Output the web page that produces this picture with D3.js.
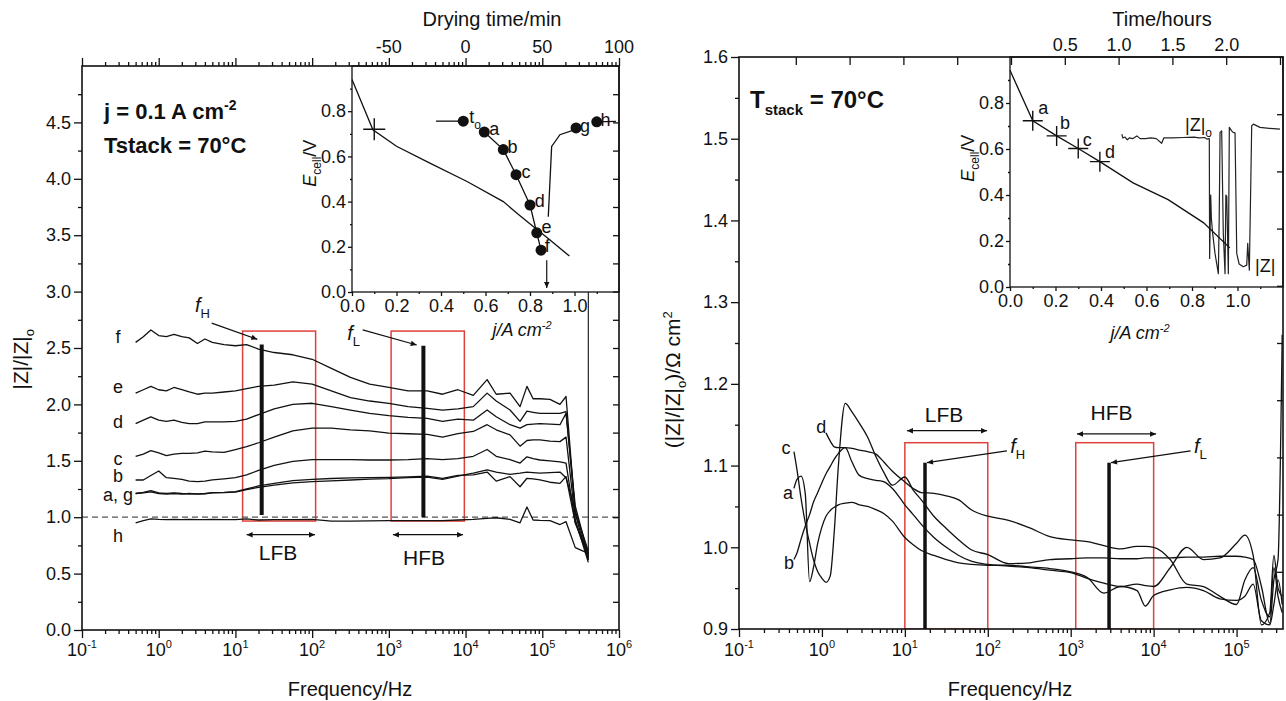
<!DOCTYPE html>
<html>
<head>
<meta charset="utf-8">
<title>|Z|/|Z|o against frequency</title>
<script src="https://cdn.jsdelivr.net/npm/d3@7/dist/d3.min.js"></script>
<style>
  body { margin: 0; background: #fff; }
  svg text { font-family: "Liberation Sans", Arial, sans-serif; fill: #111; }
</style>
</head>
<body>
<div id="vis"></div>
<script>
// ---------- left panel: |Z|/|Z|o during drying (j = 0.1 A cm-2) ----------
const freqLeft = [0.5, 0.63, 0.79, 1.0, 1.26, 1.58, 2.0, 2.5, 3.2, 4.0, 5.0, 7.1, 10, 14, 20, 32, 56, 100, 178, 316,
  562, 1000, 1780, 3160, 5010, 7940, 12600, 19100, 25100, 38000, 51300, 63100, 75900, 93300, 126000, 170000, 204000, 269000, 398000];
const leftF = [2.55, 2.60, 2.66, 2.61, 2.60, 2.62, 2.60, 2.59, 2.54, 2.58, 2.55, 2.53, 2.52, 2.53, 2.49, 2.46, 2.44, 2.40, 2.32, 2.24,
  2.18, 2.15, 2.12, 2.12, 2.09, 2.13, 2.08, 2.22, 2.09, 2.10, 1.98, 2.16, 2.05, 2.05, 2.045, 2.00, 2.07, 1.03, 0.62];
const leftE = [2.10, 2.13, 2.16, 2.13, 2.12, 2.15, 2.13, 2.11, 2.09, 2.10, 2.10, 2.11, 2.12, 2.14, 2.16, 2.17, 2.20, 2.18, 2.12, 2.06,
  2.03, 2.01, 1.98, 1.965, 1.95, 1.96, 1.98, 2.10, 2.03, 1.95, 1.85, 1.94, 1.93, 1.92, 1.92, 1.92, 1.935, 1.05, 0.70];
const leftD = [1.83, 1.86, 1.89, 1.86, 1.85, 1.86, 1.84, 1.83, 1.83, 1.845, 1.845, 1.845, 1.85, 1.87, 1.91, 1.96, 2.00, 2.01, 1.98, 1.95,
  1.92, 1.90, 1.885, 1.876, 1.85, 1.87, 1.86, 1.95, 1.89, 1.82, 1.79, 1.82, 1.825, 1.83, 1.825, 1.82, 1.92, 1.10, 0.66];
const leftC = [1.54, 1.56, 1.59, 1.57, 1.545, 1.56, 1.566, 1.566, 1.57, 1.585, 1.58, 1.575, 1.60, 1.625, 1.66, 1.71, 1.765, 1.79, 1.79, 1.775,
  1.765, 1.745, 1.74, 1.735, 1.71, 1.74, 1.76, 1.82, 1.775, 1.73, 1.63, 1.68, 1.685, 1.685, 1.675, 1.67, 1.71, 0.98, 0.60];
const leftB = [1.33, 1.33, 1.37, 1.41, 1.35, 1.345, 1.335, 1.32, 1.315, 1.32, 1.33, 1.34, 1.35, 1.375, 1.415, 1.46, 1.495, 1.51, 1.51, 1.51,
  1.507, 1.507, 1.51, 1.52, 1.51, 1.52, 1.54, 1.60, 1.54, 1.51, 1.48, 1.535, 1.52, 1.507, 1.50, 1.49, 1.48, 0.95, 0.68];
const leftA = [1.21, 1.22, 1.235, 1.215, 1.212, 1.215, 1.21, 1.208, 1.206, 1.21, 1.217, 1.22, 1.226, 1.25, 1.277, 1.30, 1.325, 1.336, 1.343, 1.348,
  1.35, 1.353, 1.358, 1.365, 1.345, 1.37, 1.375, 1.40, 1.32, 1.36, 1.27, 1.345, 1.34, 1.33, 1.31, 1.30, 1.36, 0.95, 0.64];
const leftG = [1.21, 1.215, 1.225, 1.21, 1.205, 1.21, 1.205, 1.21, 1.204, 1.207, 1.215, 1.218, 1.222, 1.245, 1.265, 1.285, 1.305, 1.315, 1.322, 1.33,
  1.338, 1.342, 1.35, 1.356, 1.335, 1.365, 1.39, 1.42, 1.40, 1.38, 1.39, 1.40, 1.395, 1.39, 1.395, 1.40, 1.35, 1.06, 0.66];
const leftH = [0.95, 0.97, 0.985, 0.98, 0.978, 0.98, 0.978, 0.98, 0.978, 0.978, 0.98, 0.978, 0.978, 0.985, 0.975, 0.978, 0.978, 0.98, 0.965, 0.965,
  0.968, 0.969, 0.97, 0.97, 0.97, 0.975, 0.98, 0.99, 0.995, 0.98, 0.95, 1.09, 0.975, 0.972, 0.97, 0.935, 0.96, 0.73, 0.68];
const leftSpike = { freq: 398000, values: [0.62, 5.0] };
const leftCurveLabels = ["f", "e", "d", "c", "b", "a, g", "h"];
const leftCurveLabelY = [2.60, 2.15, 1.84, 1.52, 1.365, 1.197, 0.83];
const leftYTicks = [0, 0.5, 1.0, 1.5, 2.0, 2.5, 3.0, 3.5, 4.0, 4.5];
const decadesLeft = [-1, 0, 1, 2, 3, 4, 5, 6];
const dryingTicks = [-50, 0, 50, 100];
const lfbLeft = [12.4, 111], hfbLeft = [1070, 9640], boxYLeft = [0.966, 2.65];
const fHLeft = { freq: 22, y: [1.02, 2.53] }, fLLeft = { freq: 2820, y: [1.0, 2.52] };

// left inset: polarisation curve and cell voltage during drying
const polLeftJ = [0, 0.094, 0.2, 0.35, 0.517, 0.68, 0.74, 0.816, 0.89, 0.977];
const polLeftE = [0.94, 0.718, 0.645, 0.57, 0.489, 0.40, 0.35, 0.289, 0.23, 0.159];
const crossLeft = [0.1, 0.72];
const dryNames = ["t", "a", "b", "c", "d", "e", "f", "g", "h"];
const dryTimes = [-1.5, 12.2, 24.6, 32.9, 42, 46.4, 49.2, 72, 85.5];
const dryE = [0.756, 0.708, 0.63, 0.519, 0.385, 0.262, 0.185, 0.726, 0.753];
const dryLabelT = [2.4, 15.5, 27.3, 36.4, 45.1, 49.5, 51.6, 74.6, 88];
const dryLabelE = [0.748, 0.696, 0.615, 0.504, 0.378, 0.26, 0.178, 0.707, 0.736];
const leadLine = { t: [-19.3, -1.5], e: [0.756, 0.756] };
const recoveryT = [53.9, 56.1, 61.5, 71.3];
const recoveryE = [0.333, 0.644, 0.696, 0.718];
const tailLine = { t: [85.5, 98], e: [0.753, 0.755] };
const dropArrow = { t: 52.9, e: [0.14, 0.018] };

// ---------- right panel: (|Z|/|Z|o) at constant Tstack ----------
const freqRight = [0.46, 0.5, 0.56, 0.63, 0.71, 0.79, 0.89, 1.0, 1.12, 1.26, 1.41, 1.58, 1.91, 2.29, 2.82, 3.55, 4.47, 5.62, 7.08, 10,
  12.6, 15.8, 22.4, 31.6, 44.7, 63.1, 100, 178, 316, 562, 1000, 1585, 2512, 3981, 6310, 7943, 10000, 15850, 25120, 39810,
  63100, 100000, 125900, 158500, 199500, 251200, 281800, 316200, 354800];
const rightA = [1.072, 1.083, 1.087, 1.065, 0.958, 0.975, 1.005, 1.025, 1.038, 1.045, 1.049, 1.052, 1.054, 1.055, 1.052, 1.050, 1.046, 1.041, 1.032, 1.012,
  1.003, 0.996, 0.990, 0.985, 0.981, 0.979, 0.978, 0.978, 0.976, 0.974, 0.970, 0.963, 0.944, 0.952, 0.947, 0.928, 0.941, 0.948, 0.951, 0.947,
  0.937, 0.935, 0.940, 0.955, 0.910, 0.905, 0.930, 0.960, 0.930];
const rightB = [0.985, 0.993, 1.010, 1.026, 1.040, 1.055, 1.067, 1.079, 1.090, 1.099, 1.108, 1.115, 1.122, 1.105, 1.088, 1.084, 1.082, 1.080, 1.072, 1.052,
  1.040, 1.028, 1.012, 1.000, 0.990, 0.983, 0.979, 0.977, 0.975, 0.972, 0.969, 0.962, 0.956, 0.952, 0.955, 0.953, 0.952, 0.975, 1.000, 0.985,
  0.987, 1.005, 1.015, 0.990, 0.905, 0.920, 0.990, 0.950, 0.940];
const rightC = [1.117, 1.095, 1.06, 1.03, 1.005, 0.985, 0.97, 0.962, 0.957, 0.965, 1.02, 1.10, 1.176, 1.166, 1.152, 1.135, 1.111, 1.091, 1.076, 1.086,
  1.070, 1.058, 1.038, 1.023, 1.009, 0.997, 0.991, 0.980, 0.981, 0.985, 0.986, 0.987, 0.987, 0.986, 0.986, 0.987, 0.987, 0.987, 0.988, 0.988,
  0.989, 0.989, 0.988, 0.985, 0.952, 0.907, 0.96, 0.985, 1.26];
const rightD = [null, null, null, null, null, null, null, null, 1.140, 1.130, 1.123, 1.122, 1.122, 1.121, 1.119, 1.117, 1.114, 1.104, 1.093, 1.080,
  1.072, 1.067, 1.066, 1.063, 1.058, 1.046, 1.038, 1.033, 1.024, 1.013, 1.009, 1.007, 1.002, 0.998, 1.001, 1.001, 1.000, 0.985, 0.955, 0.952,
  0.940, 0.930, 0.960, 0.975, 0.935, 0.915, 0.975, 0.940, 0.920];
const rightCurveLabels = ["c", "a", "b", "d"];
const rightLabelFreq = [0.37, 0.39, 0.40, 0.98];
const rightLabelY = [1.1215, 1.066, 0.981, 1.1476];
const rightYTicks = [0.9, 1.0, 1.1, 1.2, 1.3, 1.4, 1.5, 1.6];
const decadesRight = [-1, 0, 1, 2, 3, 4, 5];
const hourTicks = [-2, -1.5, -1, -0.5, 0, 0.5, 1, 1.5, 2, 2.5];
const hourLabels = [0.5, 1.0, 1.5, 2.0];
const lfbRight = [10, 100], hfbRight = [1150, 10000], boxYRight = [0.9, 1.128];
const fHRight = { freq: 17.5, y: [0.9, 1.1035] }, fLRight = { freq: 2900, y: [0.9, 1.1035] };

// right inset: polarisation curve and impedance trace against time
const polRightJ = [0, 0.1, 0.205, 0.3, 0.395, 0.541, 0.695, 0.85, 0.966];
const polRightE = [0.942, 0.723, 0.657, 0.602, 0.545, 0.453, 0.38, 0.28, 0.17];
const crossRightJ = [0.1, 0.205, 0.3, 0.395];
const crossRightE = [0.723, 0.657, 0.602, 0.545];
const crossNames = ["a", "b", "c", "d"];
const crossLabelJ = [0.124, 0.22, 0.32, 0.418];
const crossLabelE = [0.752, 0.686, 0.613, 0.562];
const zTraceHours = [1.03, 1.04, 1.06, 1.08, 1.10, 1.13, 1.17, 1.20, 1.25, 1.30, 1.35, 1.40, 1.42, 1.50, 1.60, 1.70, 1.75, 1.80, 1.82, 1.843,
  1.846, 1.856, 1.862, 1.874, 1.896, 1.927, 1.935, 1.943, 1.958, 1.973, 1.989, 1.997, 2.005, 2.02, 2.029, 2.051, 2.065, 2.082, 2.091, 2.098,
  2.12, 2.159, 2.191, 2.2, 2.215, 2.228, 2.237, 2.253, 2.314, 2.40, 2.50];
const zTraceE = [0.664, 0.648, 0.652, 0.640, 0.648, 0.645, 0.657, 0.645, 0.645, 0.648, 0.645, 0.625, 0.648, 0.648, 0.650, 0.652, 0.648, 0.650, 0.643, 0.645,
  0.124, 0.400, 0.300, 0.234, 0.146, 0.058, 0.300, 0.672, 0.679, 0.234, 0.058, 0.400, 0.394, 0.058, 0.694, 0.679, 0.672, 0.670, 0.380, 0.146,
  0.100, 0.088, 0.095, 0.190, 0.073, 0.438, 0.701, 0.708, 0.694, 0.690, 0.686];

const ink = "#111", boxRed = "#e0403a";

const svg = d3.select("#vis").append("svg")
  .attr("width", 1286).attr("height", 701)
  .attr("viewBox", [0, 0, 1286, 701]);

const defs = svg.append("defs");
defs.append("marker").attr("id", "ah").attr("viewBox", "0 0 10 10")
  .attr("refX", 10).attr("refY", 5).attr("markerWidth", 10).attr("markerHeight", 6)
  .attr("markerUnits", "userSpaceOnUse").attr("orient", "auto-start-reverse")
  .append("path").attr("d", "M0,0.5 L10,5 L0,9.5 z").attr("fill", ink);

// panel geometry
const mL = { left: 82, right: 619, top: 66, bottom: 630 };
const mR = { left: 739, right: 1283, top: 57, bottom: 629 };

const xL = d3.scaleLog().domain([0.1, 1e6]).range([mL.left, mL.right]);
const yL = d3.scaleLinear().domain([0, 5]).range([mL.bottom, mL.top]);
const jL = d3.scaleLinear().domain([0, 1.2]).range([352, mL.right]);
const eL = d3.scaleLinear().domain([0, 1]).range([292, mL.top]);
const dryL = d3.scaleLinear().domain([-50, 100]).range([xL(1e3), xL(1e6)]);

const xR = d3.scaleLog().domain([0.1, 3.63e5]).range([mR.left, mR.right]);
const yR = d3.scaleLinear().domain([0.9, 1.6]).range([mR.bottom, mR.top]);
const jR = d3.scaleLinear().domain([0, 1.2]).range([1010, mR.right]);
const eR = d3.scaleLinear().domain([0, 1]).range([287, mR.top]);
const hrR = d3.scaleLinear().domain([0, 2.5]).range([1011, 1280]);

defs.append("clipPath").attr("id", "clipL").append("rect")
  .attr("x", mL.left).attr("y", mL.top).attr("width", mL.right - mL.left).attr("height", mL.bottom - mL.top);
defs.append("clipPath").attr("id", "clipR").append("rect")
  .attr("x", mR.left).attr("y", mR.top).attr("width", mR.right - mR.left).attr("height", mR.bottom - mR.top);

// ---------- helpers ----------
function axis(parent, gen, values, size, fmt, pad) {
  const g = parent.append("g").call(gen.tickValues(values).tickSize(size).tickSizeOuter(0)
    .tickPadding(pad ?? 3).tickFormat(fmt || (() => "")));
  g.select(".domain").remove();
  g.attr("font-size", 18).attr("font-family", null);
  g.selectAll(".tick line").attr("stroke", ink).attr("stroke-width", 1.3);
  return g;
}
const isDecade = t => Math.abs(Math.log10(t) - Math.round(Math.log10(t))) < 1e-9;

function rich(text, parts) {
  let shift = 0;
  parts.forEach(p => {
    const target = p.sub ? p.sub : p.sup ? -p.sup : 0;
    const ts = text.append("tspan").text(p.t).attr("dy", target - shift);
    shift = target;
    if (p.size) ts.attr("font-size", p.size);
    if (p.italic) ts.attr("font-style", "italic");
  });
  return text;
}
function arrow(g, x1, y1, x2, y2, both) {
  g.append("line").attr("x1", x1).attr("y1", y1).attr("x2", x2).attr("y2", y2)
    .attr("stroke", ink).attr("stroke-width", 1.2)
    .attr("marker-end", "url(#ah)").attr("marker-start", both ? "url(#ah)" : null);
}
function decadeLabels(g, scale, exps, y) {
  const t = g.selectAll(null).data(exps).join("text")
    .attr("x", d => scale(10 ** d)).attr("y", y).attr("text-anchor", "middle").attr("font-size", 18);
  t.append("tspan").text("10");
  t.append("tspan").attr("dy", -8).attr("font-size", 11).text(d => d);
}
function cross(g, x, y, arm) {
  g.append("path").attr("d", `M${x - arm},${y}H${x + arm}M${x},${y - arm}V${y + arm}`)
    .attr("stroke", ink).attr("stroke-width", 1.4);
}

// ================= LEFT PANEL =================
const gL = svg.append("g");
const plotL = gL.append("g").attr("clip-path", "url(#clipL)");

[lfbLeft, hfbLeft].forEach(b => plotL.append("rect")
  .attr("x", xL(b[0])).attr("y", yL(boxYLeft[1]))
  .attr("width", xL(b[1]) - xL(b[0])).attr("height", yL(boxYLeft[0]) - yL(boxYLeft[1]))
  .attr("fill", "none").attr("stroke", boxRed).attr("stroke-width", 1.5));

plotL.append("line").attr("x1", mL.left).attr("x2", mL.right).attr("y1", yL(1)).attr("y2", yL(1))
  .attr("stroke", "#555").attr("stroke-width", 1.2).attr("stroke-dasharray", "6,4");

const lineL = d3.line().x(d => xL(d[0])).y(d => yL(d[1]));
const seriesLeft = [leftF, leftE, leftD, leftC, leftB, leftA, leftG, leftH];
plotL.selectAll("path.curve").data(seriesLeft).join("path").attr("class", "curve")
  .attr("d", vals => lineL(vals.map((v, i) => [freqLeft[i], v])))
  .attr("fill", "none").attr("stroke", ink).attr("stroke-width", 1.3).attr("stroke-linejoin", "round");
plotL.append("path").attr("d", lineL(leftSpike.values.map(v => [leftSpike.freq, v])))
  .attr("stroke", ink).attr("stroke-width", 1.1);

[fHLeft, fLLeft].forEach(m => plotL.append("line")
  .attr("x1", xL(m.freq)).attr("x2", xL(m.freq)).attr("y1", yL(m.y[0])).attr("y2", yL(m.y[1]))
  .attr("stroke", ink).attr("stroke-width", 4));

// left inset
const inL = gL.append("g");
inL.append("rect").attr("x", jL(0)).attr("y", eL(1)).attr("width", jL(1.2) - jL(0)).attr("height", eL(0) - eL(1))
  .attr("fill", "#fff").attr("stroke", ink).attr("stroke-width", 1.3);
const lineJL = d3.line().x(d => jL(d[0])).y(d => eL(d[1]));
const lineDL = d3.line().x(d => dryL(d[0])).y(d => eL(d[1]));
inL.append("path").attr("d", lineJL(polLeftJ.map((j, i) => [j, polLeftE[i]])))
  .attr("fill", "none").attr("stroke", ink).attr("stroke-width", 1.3);
cross(inL, jL(crossLeft[0]), eL(crossLeft[1]), 11);
inL.append("path").attr("d", lineDL(leadLine.t.map((t, i) => [t, leadLine.e[i]])))
  .attr("fill", "none").attr("stroke", ink).attr("stroke-width", 1.3);
inL.append("path").attr("d", lineDL(dryTimes.slice(1, 7).map((t, i) => [t, dryE[i + 1]])))
  .attr("fill", "none").attr("stroke", ink).attr("stroke-width", 1.3);
inL.append("path").attr("d", lineDL(recoveryT.map((t, i) => [t, recoveryE[i]])))
  .attr("fill", "none").attr("stroke", ink).attr("stroke-width", 1.3);
inL.append("path").attr("d", lineDL(tailLine.t.map((t, i) => [t, tailLine.e[i]])))
  .attr("fill", "none").attr("stroke", ink).attr("stroke-width", 1.3);
arrow(inL, dryL(dropArrow.t), eL(dropArrow.e[0]), dryL(dropArrow.t), eL(dropArrow.e[1]));
inL.selectAll("circle").data(dryTimes).join("circle")
  .attr("cx", d => dryL(d)).attr("cy", (d, i) => eL(dryE[i])).attr("r", 5.5).attr("fill", ink);
dryNames.forEach((n, i) => {
  const t = inL.append("text").attr("x", dryL(dryLabelT[i])).attr("y", eL(dryLabelE[i])).attr("font-size", 18);
  if (n === "t") rich(t, [{ t: "t" }, { t: "o", sub: 6, size: 12 }]);
  else t.text(n);
});
axis(inL.append("g").attr("transform", `translate(${jL(0)},0)`), d3.axisLeft(eL), [0, 0.2, 0.4, 0.6, 0.8], 4, d3.format(".1f"), 2);
axis(inL.append("g").attr("transform", `translate(${jL(0)},0)`), d3.axisLeft(eL), [0.1, 0.3, 0.5, 0.7, 0.9], 2);
axis(inL.append("g").attr("transform", `translate(0,${eL(0)})`), d3.axisBottom(jL), [0, 0.2, 0.4, 0.6, 0.8, 1.0], 4, d3.format(".1f"), 3);
axis(inL.append("g").attr("transform", `translate(0,${eL(0)})`), d3.axisBottom(jL), [0.1, 0.3, 0.5, 0.7, 0.9, 1.1], 2);
rich(inL.append("text").attr("transform", `translate(316,${eL(0.57)}) rotate(-90)`)
  .attr("text-anchor", "middle").attr("font-size", 18),
  [{ t: "E", italic: true }, { t: "cell", sub: 5, size: 12 }, { t: "/V" }]);
rich(inL.append("text").attr("x", 522).attr("y", 336).attr("text-anchor", "middle")
  .attr("font-size", 18).attr("font-style", "italic"),
  [{ t: "j/A cm" }, { t: "-2", sup: 7, size: 11 }]);

// left frame and axes
gL.append("rect").attr("x", mL.left).attr("y", mL.top).attr("width", mL.right - mL.left).attr("height", mL.bottom - mL.top)
  .attr("fill", "none").attr("stroke", ink).attr("stroke-width", 1.6);
const majL = xL.ticks().filter(isDecade), minL = xL.ticks().filter(t => !isDecade(t));
axis(gL.append("g").attr("transform", `translate(0,${mL.bottom})`), d3.axisBottom(xL), majL, 8);
axis(gL.append("g").attr("transform", `translate(0,${mL.bottom})`), d3.axisBottom(xL), minL, 4);
axis(gL.append("g").attr("transform", `translate(0,${mL.top})`), d3.axisTop(xL), majL, 8);
axis(gL.append("g").attr("transform", `translate(0,${mL.top})`), d3.axisTop(xL), minL, 4);
axis(gL.append("g").attr("transform", `translate(${mL.left},0)`), d3.axisLeft(yL), leftYTicks, 8, d3.format(".1f"), 3);
axis(gL.append("g").attr("transform", `translate(${mL.left},0)`), d3.axisLeft(yL), leftYTicks.map(v => v + 0.25), 4);
axis(gL.append("g").attr("transform", `translate(${mL.right},0)`), d3.axisRight(yL),
  d3.range(0.25, 5, 0.25), -6);
decadeLabels(gL, xL, decadesLeft, 656);
gL.selectAll("text.dry").data(dryingTicks).join("text").attr("class", "dry")
  .attr("x", d => dryL(d)).attr("y", 53).attr("text-anchor", "middle").attr("font-size", 18).text(d => d);
gL.append("text").attr("x", 492).attr("y", 26).attr("text-anchor", "middle").attr("font-size", 20).text("Drying time/min");
gL.append("text").attr("x", 350).attr("y", 696).attr("text-anchor", "middle").attr("font-size", 20).text("Frequency/Hz");
rich(gL.append("text").attr("transform", `translate(28,${yL(2.4)}) rotate(-90)`).attr("text-anchor", "middle").attr("font-size", 21),
  [{ t: "|Z|/|Z|" }, { t: "o", sub: 6, size: 13 }]);

rich(gL.append("text").attr("x", 104).attr("y", 119).attr("font-size", 22).attr("font-weight", "bold"),
  [{ t: "j = 0.1 A cm" }, { t: "-2", sup: 9, size: 14 }]);
gL.append("text").attr("x", 104).attr("y", 153).attr("font-size", 22).attr("font-weight", "bold").text("Tstack = 70°C");

// left annotations
gL.selectAll("text.cl").data(leftCurveLabels).join("text").attr("class", "cl")
  .attr("x", xL(0.295)).attr("y", (d, i) => yL(leftCurveLabelY[i]) + 6)
  .attr("text-anchor", "middle").attr("font-size", 18).text(d => d);
rich(gL.append("text").attr("x", xL(2.97)).attr("y", yL(2.82)).attr("font-size", 20),
  [{ t: "f", italic: true }, { t: "H", sub: 6, size: 13 }]);
arrow(gL, xL(4.91), yL(2.72), xL(19.3), yL(2.577));
rich(gL.append("text").attr("x", xL(286)).attr("y", yL(2.57)).attr("font-size", 20),
  [{ t: "f", italic: true }, { t: "L", sub: 6, size: 13 }]);
arrow(gL, xL(456), yL(2.66), xL(2307), yL(2.527));
arrow(gL, xL(14), yL(0.845), xL(109), yL(0.845), true);
arrow(gL, xL(1130), yL(0.845), xL(9270), yL(0.845), true);
gL.append("text").attr("x", xL(35.9)).attr("y", yL(0.62)).attr("text-anchor", "middle").attr("font-size", 21).text("LFB");
gL.append("text").attr("x", xL(2880)).attr("y", yL(0.576)).attr("text-anchor", "middle").attr("font-size", 21).text("HFB");

// ================= RIGHT PANEL =================
const gR = svg.append("g");
const plotR = gR.append("g").attr("clip-path", "url(#clipR)");

[lfbRight, hfbRight].forEach(b => plotR.append("rect")
  .attr("x", xR(b[0])).attr("y", yR(boxYRight[1]))
  .attr("width", xR(b[1]) - xR(b[0])).attr("height", yR(boxYRight[0]) - yR(boxYRight[1]))
  .attr("fill", "none").attr("stroke", boxRed).attr("stroke-width", 1.5));

const lineR = d3.line().defined(d => d[1] != null).x(d => xR(d[0])).y(d => yR(d[1])).curve(d3.curveMonotoneX);
plotR.selectAll("path.curve").data([rightA, rightB, rightC, rightD]).join("path").attr("class", "curve")
  .attr("d", vals => lineR(vals.map((v, i) => [freqRight[i], v])))
  .attr("fill", "none").attr("stroke", ink).attr("stroke-width", 1.3);

[fHRight, fLRight].forEach(m => plotR.append("line")
  .attr("x1", xR(m.freq)).attr("x2", xR(m.freq)).attr("y1", yR(m.y[0])).attr("y2", yR(m.y[1]))
  .attr("stroke", ink).attr("stroke-width", 3.5));

// right inset
const inR = gR.append("g");
inR.append("rect").attr("x", jR(0)).attr("y", eR(1)).attr("width", jR(1.2) - jR(0)).attr("height", eR(0) - eR(1))
  .attr("fill", "#fff").attr("stroke", ink).attr("stroke-width", 1.3);
const lineJR = d3.line().x(d => jR(d[0])).y(d => eR(d[1]));
const lineHR = d3.line().x(d => hrR(d[0])).y(d => eR(d[1]));
inR.append("path").attr("d", lineHR(zTraceHours.map((t, i) => [t, zTraceE[i]])))
  .attr("fill", "none").attr("stroke", "#222").attr("stroke-width", 1.2).attr("stroke-linejoin", "round");
inR.append("path").attr("d", lineJR(polRightJ.map((j, i) => [j, polRightE[i]])))
  .attr("fill", "none").attr("stroke", ink).attr("stroke-width", 1.3);
crossRightJ.forEach((j, i) => cross(inR, jR(j), eR(crossRightE[i]), 10));
inR.selectAll("text.cn").data(crossNames).join("text").attr("class", "cn")
  .attr("x", (d, i) => jR(crossLabelJ[i])).attr("y", (d, i) => eR(crossLabelE[i])).attr("font-size", 18).text(d => d);
rich(inR.append("text").attr("x", hrR(1.617)).attr("y", eR(0.679)).attr("font-size", 18),
  [{ t: "|Z|" }, { t: "o", sub: 6, size: 12 }]);
inR.append("text").attr("x", hrR(2.268)).attr("y", eR(0.066)).attr("font-size", 18).text("|Z|");
axis(inR.append("g").attr("transform", `translate(${jR(0)},0)`), d3.axisLeft(eR), [0, 0.2, 0.4, 0.6, 0.8], 4, d3.format(".1f"), 2);
axis(inR.append("g").attr("transform", `translate(${jR(0)},0)`), d3.axisLeft(eR), [0.1, 0.3, 0.5, 0.7, 0.9], 2);
axis(inR.append("g").attr("transform", `translate(0,${eR(0)})`), d3.axisBottom(jR), [0, 0.2, 0.4, 0.6, 0.8, 1.0], 4, d3.format(".1f"), 3);
axis(inR.append("g").attr("transform", `translate(0,${eR(0)})`), d3.axisBottom(jR), [0.1, 0.3, 0.5, 0.7, 0.9, 1.1], 2);
rich(inR.append("text").attr("transform", `translate(974,${eR(0.56)}) rotate(-90)`)
  .attr("text-anchor", "middle").attr("font-size", 18),
  [{ t: "E", italic: true }, { t: "cell", sub: 5, size: 12 }, { t: "/V" }]);
rich(inR.append("text").attr("x", 1140).attr("y", 339).attr("text-anchor", "middle")
  .attr("font-size", 18).attr("font-style", "italic"),
  [{ t: "j/A cm" }, { t: "-2", sup: 7, size: 11 }]);

// right frame and axes
gR.append("rect").attr("x", mR.left).attr("y", mR.top).attr("width", mR.right - mR.left).attr("height", mR.bottom - mR.top)
  .attr("fill", "none").attr("stroke", ink).attr("stroke-width", 1.6);
const majR = xR.ticks().filter(isDecade), minR = xR.ticks().filter(t => !isDecade(t));
axis(gR.append("g").attr("transform", `translate(0,${mR.bottom})`), d3.axisBottom(xR), majR, 8);
axis(gR.append("g").attr("transform", `translate(0,${mR.bottom})`), d3.axisBottom(xR), minR, 4);
axis(gR.append("g").attr("transform", `translate(${mR.left},0)`), d3.axisLeft(yR), rightYTicks, 8, d3.format(".1f"), 3);
axis(gR.append("g").attr("transform", `translate(${mR.left},0)`), d3.axisLeft(yR), rightYTicks.slice(0, -1).map(v => v + 0.05), 4);
const rightEdge = d3.scaleLinear().domain([0, 10]).range([mR.bottom, mR.top]);
axis(gR.append("g").attr("transform", `translate(${mR.right},0)`), d3.axisRight(rightEdge), d3.range(1, 10), -6);
axis(gR.append("g").attr("transform", `translate(0,${mR.top})`), d3.axisTop(hrR), hourTicks, -8,
  d => hourLabels.includes(d) ? d.toFixed(1) : "", 6);
decadeLabels(gR, xR, decadesRight, 656);
gR.append("text").attr("x", 1162).attr("y", 26).attr("text-anchor", "middle").attr("font-size", 20).text("Time/hours");
gR.append("text").attr("x", 1010).attr("y", 696).attr("text-anchor", "middle").attr("font-size", 20).text("Frequency/Hz");
rich(gR.append("text").attr("transform", `translate(680,${yR(1.205)}) rotate(-90)`).attr("text-anchor", "middle").attr("font-size", 21),
  [{ t: "(|Z|/|Z|" }, { t: "o", sub: 6, size: 13 }, { t: ")/Ω cm" }, { t: "2", sup: 8, size: 13 }]);
rich(gR.append("text").attr("x", 750).attr("y", 108).attr("font-size", 24).attr("font-weight", "bold"),
  [{ t: "T" }, { t: "stack", sub: 7, size: 15 }, { t: " = 70°C" }]);

// right annotations
gR.selectAll("text.cl").data(rightCurveLabels).join("text").attr("class", "cl")
  .attr("x", (d, i) => xR(rightLabelFreq[i])).attr("y", (d, i) => yR(rightLabelY[i]) + 6)
  .attr("text-anchor", "middle").attr("font-size", 18).text(d => d);
rich(gR.append("text").attr("x", xR(186)).attr("y", yR(1.115)).attr("font-size", 20),
  [{ t: "f", italic: true }, { t: "H", sub: 6, size: 13 }]);
arrow(gR, xR(170), yR(1.118), xR(fHRight.freq) + 2, yR(1.1035));
rich(gR.append("text").attr("x", xR(30600)).attr("y", yR(1.115)).attr("font-size", 20),
  [{ t: "f", italic: true }, { t: "L", sub: 6, size: 13 }]);
arrow(gR, xR(27900), yR(1.118), xR(fLRight.freq) + 2, yR(1.1035));
arrow(gR, xR(10.6), yR(1.1427), xR(98), yR(1.1427), true);
arrow(gR, xR(1191), yR(1.1387), xR(10700), yR(1.1387), true);
gR.append("text").attr("x", xR(29.7)).attr("y", yR(1.1538)).attr("text-anchor", "middle").attr("font-size", 21).text("LFB");
gR.append("text").attr("x", xR(3110)).attr("y", yR(1.1558)).attr("text-anchor", "middle").attr("font-size", 21).text("HFB");
</script>
</body>
</html>
